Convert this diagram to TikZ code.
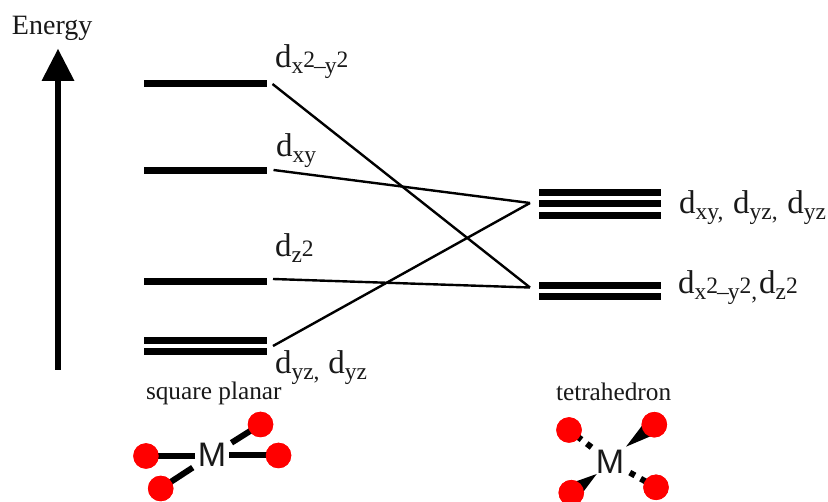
\documentclass[tikz,border=0pt]{standalone}
\usepackage{fontspec}
\setmainfont{Liberation Serif}
\newfontfamily\msans{Liberation Sans}
\usetikzlibrary{calc}
\newcommand{\lowsub}[1]{\raisebox{-6pt}{\fontsize{23.5}{23.5}\selectfont #1}}
\newcommand{\upt}{\raisebox{6pt}{2}}
\tikzset{
  x=1pt,y=-1pt,
  levelbar/.style={draw=none,fill=black,minimum width=122.5pt,minimum height=7pt,inner sep=0pt,outer sep=0pt},
  orbital/.style={anchor=base west,inner sep=0pt,outer sep=0pt,font=\fontsize{33}{33}\selectfont,text=black!90},
  caption/.style={anchor=base west,inner sep=0pt,outer sep=0pt,font=\fontsize{25.3}{25.3}\selectfont,text=black!90},
  link/.style={draw=black,line width=2.4pt},
  atom/.style={circle,fill=red,draw=none,minimum size=25.5pt,inner sep=0pt,outer sep=0pt},
  metal/.style={inner sep=0pt,outer sep=0pt,font=\msans\fontsize{34}{34}\selectfont,text=black!90},
  bond/.style={draw=black,line width=6pt},
  wedge/.style={fill=black,draw=none}
}
\begin{document}
\begin{tikzpicture}
\useasboundingbox (0,0) rectangle (828,502);
% energy arrow
\node[caption,font=\fontsize{28}{28}\selectfont] (energy) at (12,35) {Energy};
\coordinate (arrowfoot) at (58,370);
\coordinate (arrowneck) at (58,81);
\coordinate (arrowtip) at (58,49);
\draw[line width=6.5pt] (arrowfoot) -- (arrowneck);
\fill (arrowtip) -- (74.5,81) -- (41.5,81) -- cycle;
% left levels
\node[levelbar] (L1) at (205.5,83.5) {};
\node[levelbar] (L2) at (205.5,170.3) {};
\node[levelbar] (L3) at (205.5,281.3) {};
\node[levelbar] (L4) at (205.5,340.3) {};
\node[levelbar] (L5) at (205.5,352) {};
% right levels
\node[levelbar] (R1) at (600,193) {};
\node[levelbar] (R2) at (600,204) {};
\node[levelbar] (R3) at (600,215.5) {};
\node[levelbar] (R4) at (600,286) {};
\node[levelbar] (R5) at (600,297) {};
% connector ends
\coordinate (a1) at (272.5,84);
\coordinate (a2) at (273.5,170);
\coordinate (a3) at (273,279);
\coordinate (a4) at (273,346);
\coordinate (bt) at (530,203);
\coordinate (bb) at (530,287.5);
\draw[link] (a1) -- (bb);
\draw[link] (a2) -- (bt);
\draw[link] (a3) -- (bb);
\draw[link] (a4) -- (bt);
% labels
\node[orbital] (l1) at (275,67.5) {d\lowsub{x\upt\kern-1pt--\kern-1pt y\upt}};
\node[orbital] (l2) at (276,156.5) {d\lowsub{xy}};
\node[orbital] (l3) at (275,256.5) {d\lowsub{z\upt}};
\node[orbital] (l4) at (275,374) {d\lowsub{yz,}\kern.5pt\ d\lowsub{yz}};
\node[orbital] (r1) at (679,214) {d\lowsub{xy,}\kern1.5pt\ d\lowsub{yz,}\kern1.5pt\ d\lowsub{yz}};
\node[orbital] (r2) at (678,293.5) {d\lowsub{x\upt\kern-1pt--\kern-1pt y\upt,}\kern2pt d\lowsub{z\upt}};
\node[caption] (c1) at (146,400) {square planar};
\node[caption] (c2) at (556,401) {tetrahedron};
% square planar
\node[metal] (M1) at (212,455) {M};
\node[atom] (A1) at (146,456) {};
\node[atom] (A2) at (260.5,424.5) {};
\node[atom] (A3) at (278.5,455.5) {};
\node[atom] (A4) at (160.7,488.5) {};
\draw[bond,shorten >=17pt] (A1.center) -- (M1.center |- A1.center);
\draw[bond,shorten >=17pt] (A3.center) -- (M1.center |- A3.center);
\draw[bond,shorten >=23pt] (A2.center) -- (M1.center);
\draw[bond,shorten >=23pt] (A4.center) -- (M1.center);
\node[atom] at (A1) {};
\node[atom] at (A2) {};
\node[atom] at (A3) {};
\node[atom] at (A4) {};
% tetrahedron
\node[metal] (M2) at (610,461.5) {M};
\node[atom] (B1) at (569,430) {};
\node[atom] (B2) at (654.3,424.7) {};
\node[atom] (B3) at (571.3,492.7) {};
\node[atom] (B4) at (656,487.3) {};
\coordinate (t2) at (626,446.7);
\coordinate (t3) at (596.7,474);
\fill[wedge] (t2) -- ($(B2.center)!9.5pt!90:(t2)$) -- ($(B2.center)!9.5pt!-90:(t2)$) -- cycle;
\fill[wedge] (t3) -- ($(B3.center)!9.5pt!90:(t3)$) -- ($(B3.center)!9.5pt!-90:(t3)$) -- cycle;
\draw[bond,dash pattern=on 6pt off 6.6pt,dash phase=2.8pt,shorten >=23.3pt] (B1.center) -- (M2.center);
\draw[bond,dash pattern=on 6pt off 6.6pt,dash phase=1pt,shorten >=22.7pt] (B4.center) -- (M2.center);
\node[atom] at (B1) {};
\node[atom] at (B2) {};
\node[atom] at (B3) {};
\node[atom] at (B4) {};
\end{tikzpicture}
\end{document}
